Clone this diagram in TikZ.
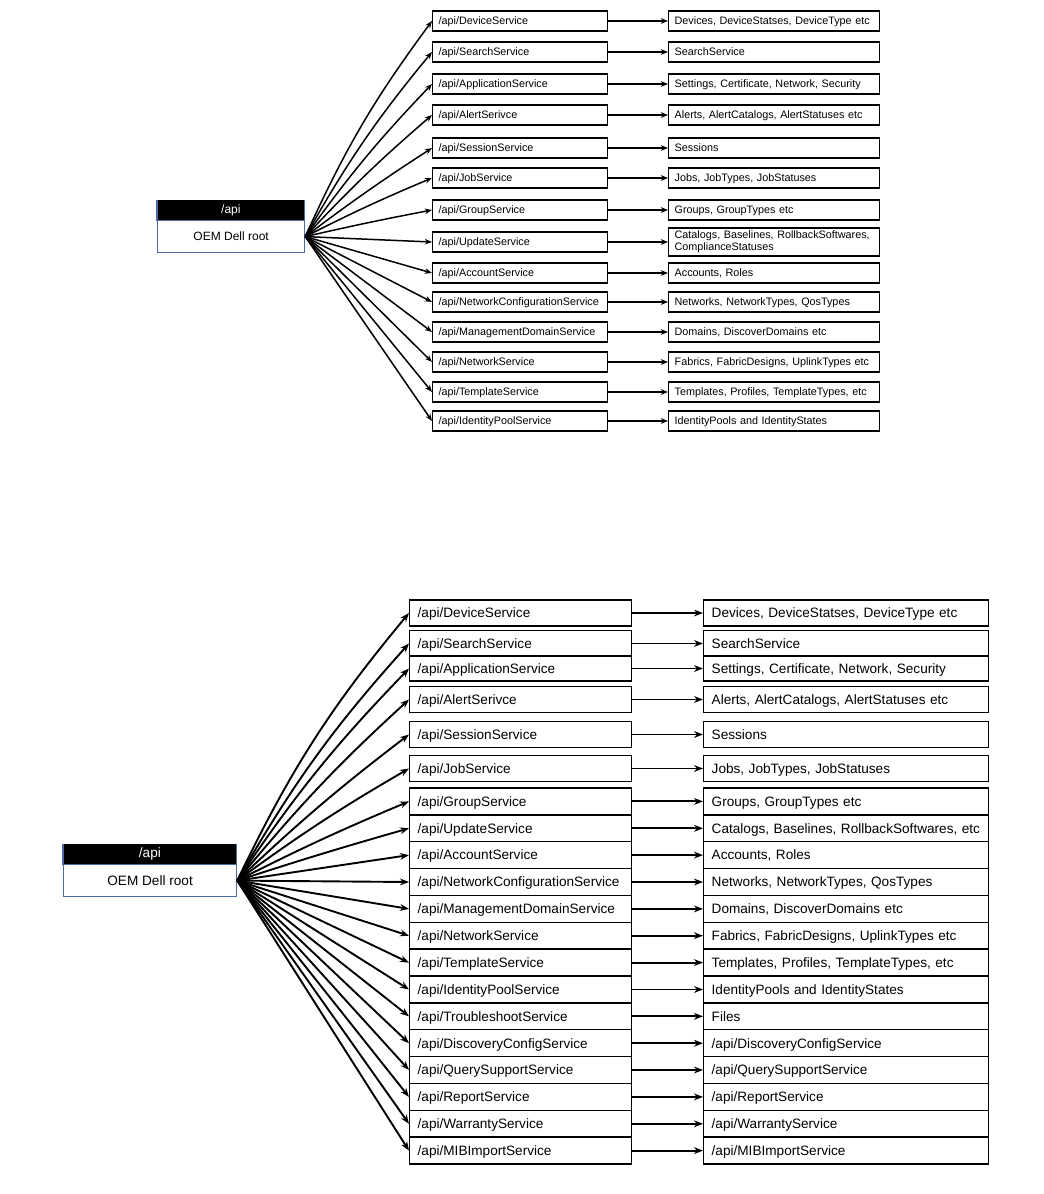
\documentclass[tikz,border=0pt]{standalone}
\usepackage{fontspec}
\setmainfont{Liberation Sans}
\usetikzlibrary{arrows.meta}
\definecolor{rootblue}{HTML}{4A6AA5}
\newcommand\api{/api/}
\newcommand\toprow[5]{%
  \node[tl, ts] (t#1) at (432,#2) {\api #3};
  \node[tr, ts] (tr#1) at (668,#2) {#4};
  \draw[tarr] (tbody.east) to[bend left=#5] (t#1.west);
  \draw[tarr] (t#1.east) -- (tr#1.west);
}
\newcommand\botrow[6]{%
  \node[bl, bs, minimum height=#3*0.5pt] (b#1) at (409,#2) {\api #4};
  \node[br, bs, minimum height=#3*0.5pt] (br#1) at (703,#2) {#5};
  \draw[barr] (bbody.east) to[bend left=#6] (b#1.west);
  \draw[barr] (b#1.east) -- (br#1.west);
}
\begin{document}
\begin{tikzpicture}[x=0.5pt,y=-0.5pt,
  box/.style={draw=black, anchor=west, inner ysep=0pt, align=left},
  tl/.style={box, line width=0.65pt, inner xsep=3pt, text width=81.5pt, minimum height=10pt, font=\fontsize{5.4}{6}\selectfont},
  tr/.style={box, line width=0.65pt, inner xsep=3pt, text width=99.5pt, minimum height=10pt, font=\fontsize{5.4}{6}\selectfont},
  ts/.style={text height=4.3pt, text depth=0.6pt},
  bl/.style={box, line width=0.7pt, inner xsep=4pt, text width=103pt, font=\fontsize{6.8}{8}\selectfont},
  br/.style={box, line width=0.7pt, inner xsep=4pt, text width=134.5pt, font=\fontsize{6.8}{8}\selectfont},
  bs/.style={text height=5.4pt, text depth=0.6pt},
  tarr/.style={line width=0.75pt, -{Stealth[length=3.6pt,width=2.8pt]}},
  barr/.style={line width=0.95pt, -{Stealth[length=4.5pt,width=3.4pt]}},
  hdr/.style={fill=black, draw=black, text=white, anchor=north west, inner sep=0pt},
  rbody/.style={fill=white, draw=rootblue, line width=0.6pt, anchor=north west, inner sep=0pt}
]
\useasboundingbox (0,0) rectangle (1044,1194);
\fill[white] (0,0) rectangle (1044,1194);

% ---------- top diagram ----------
\node[hdr, minimum width=73.5pt, minimum height=10pt, font=\fontsize{6}{7}\selectfont] (thdr) at (157,200) {/api};
\node[rbody, minimum width=73.5pt, minimum height=16pt, font=\fontsize{6}{7}\selectfont] (tbody) at (157,220) {OEM Dell root};
\draw[rootblue, line width=0.6pt] (thdr.north west) -- (thdr.south west) (thdr.north east) -- (thdr.south east);

\toprow{1}{21}{DeviceService}{Devices, DeviceStatses, DeviceType etc}{6}
\toprow{2}{52}{SearchService}{SearchService}{5}
\toprow{3}{84}{ApplicationService}{Settings, Certificate, Network, Security}{4}
\toprow{4}{115}{AlertSerivce}{Alerts, AlertCatalogs, AlertStatuses etc}{3}
\toprow{5}{148}{SessionService}{Sessions}{2}
\toprow{6}{178}{JobService}{Jobs, JobTypes, JobStatuses}{2}
\toprow{7}{210}{GroupService}{Groups, GroupTypes etc}{1}
\node[tl, ts] (t8) at (432,242) {\api UpdateService};
\node[tr, minimum height=14pt] (tr8) at (668,242) {Catalogs, Baselines, RollbackSoftwares,\\ComplianceStatuses};
\draw[tarr] (tbody.east) -- (t8.west);
\draw[tarr] (t8.east) -- (tr8.west);
\toprow{9}{273}{AccountService}{Accounts, Roles}{0}
\toprow{10}{302}{NetworkConfigurationService}{Networks, NetworkTypes, QosTypes}{0}
\toprow{11}{332}{ManagementDomainService}{Domains, DiscoverDomains etc}{0}
\toprow{12}{362}{NetworkService}{Fabrics, FabricDesigns, UplinkTypes etc}{0}
\toprow{13}{392}{TemplateService}{Templates, Profiles, TemplateTypes, etc}{0}
\toprow{14}{421}{IdentityPoolService}{IdentityPools and IdentityStates}{0}

% ---------- bottom diagram ----------
\node[hdr, minimum width=86.5pt, minimum height=10pt, font=\fontsize{6.8}{8}\selectfont] (bhdr) at (63,844) {/api};
\node[rbody, minimum width=86.5pt, minimum height=16pt, font=\fontsize{6.8}{8}\selectfont] (bbody) at (63,864) {OEM Dell root};
\draw[rootblue, line width=0.6pt] (bhdr.north west) -- (bhdr.south west) (bhdr.north east) -- (bhdr.south east);

\botrow{1}{613}{26}{DeviceService}{Devices, DeviceStatses, DeviceType etc}{7}
\botrow{2}{643.5}{25.5}{SearchService}{SearchService}{6}
\botrow{3}{668.5}{25}{ApplicationService}{Settings, Certificate, Network, Security}{5}
\botrow{4}{699.5}{26}{AlertSerivce}{Alerts, AlertCatalogs, AlertStatuses etc}{4}
\botrow{5}{734.5}{26}{SessionService}{Sessions}{3}
\botrow{6}{768.5}{26}{JobService}{Jobs, JobTypes, JobStatuses}{3}
\botrow{7}{801.4}{26.86}{GroupService}{Groups, GroupTypes etc}{2}
\botrow{8}{828.3}{26.86}{UpdateService}{Catalogs, Baselines, RollbackSoftwares, etc}{1}
\botrow{9}{855.1}{26.86}{AccountService}{Accounts, Roles}{0}
\botrow{10}{882.0}{26.86}{NetworkConfigurationService}{Networks, NetworkTypes, QosTypes}{0}
\botrow{11}{908.9}{26.86}{ManagementDomainService}{Domains, DiscoverDomains etc}{0}
\botrow{12}{935.7}{26.86}{NetworkService}{Fabrics, FabricDesigns, UplinkTypes etc}{0}
\botrow{13}{962.6}{26.86}{TemplateService}{Templates, Profiles, TemplateTypes, etc}{0}
\botrow{14}{989.5}{26.86}{IdentityPoolService}{IdentityPools and IdentityStates}{0}
\botrow{15}{1016.3}{26.86}{TroubleshootService}{Files}{0}
\botrow{16}{1043.2}{26.86}{DiscoveryConfigService}{\api DiscoveryConfigService}{0}
\botrow{17}{1070.0}{26.86}{QuerySupportService}{\api QuerySupportService}{0}
\botrow{18}{1096.9}{26.86}{ReportService}{\api ReportService}{0}
\botrow{19}{1123.8}{26.86}{WarrantyService}{\api WarrantyService}{0}
\botrow{20}{1150.6}{26.86}{MIBImportService}{\api MIBImportService}{0}
\end{tikzpicture}
\end{document}
